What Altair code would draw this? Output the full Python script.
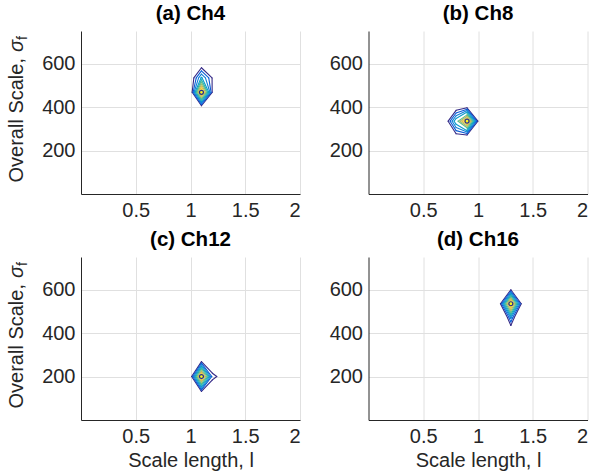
import altair as alt
import numpy as np
import pandas as pd

FONT = "Liberation Sans"
INK = "#262626"

# contour levels of the normalised likelihood and their parula colours
levels = [0.05, 0.15, 0.25, 0.35, 0.45, 0.55, 0.65, 0.75, 0.85, 0.95]
level_colors = ["#352a87", "#095dd7", "#107ed7", "#0b9ccb", "#22b1b0",
                "#60bc8b", "#aabd69", "#e1be4d", "#fcd32a", "#f9fb0e"]

panel_keys = ["a", "b", "c", "d"]
panel_titles = ["(a) Ch4", "(b) Ch8", "(c) Ch12", "(d) Ch16"]

# local likelihood grids (rows: sigma_f nodes, columns: l nodes)
a_l = [1.0, 1.1, 1.2]
a_sigma = [404, 468, 534, 600]
a_z = [[-0.15, 0.02, -0.15],
       [-0.12, 1.00, 0.03],
       [-0.09, 0.37, 0.04],
       [-0.20, -0.08, -0.20]]

b_l = [0.7, 0.8, 0.9, 1.0]
b_sigma = [270, 335, 400]
b_z = [[-0.20, 0.00, 0.03, -0.10],
       [-0.10, 0.45, 1.00, 0.04],
       [-0.20, -0.07, 0.00, -0.10]]

c_l = [1.0, 1.1, 1.2, 1.3]
c_sigma = [130, 200, 270]
c_z = [[-0.20, 0.03, -0.13, -0.20],
       [-0.06, 1.00, 0.10, -0.025],
       [-0.20, 0.03, -0.13, -0.20]]

d_l = [1.2, 1.3, 1.4]
d_sigma = [405, 470, 535, 600]
d_z = [[-0.20, -0.136, -0.20],
       [-0.46, 0.27, -0.46],
       [0.00, 1.00, 0.00],
       [-0.15, 0.04, -0.15]]

# maximum-likelihood point of each panel
peak_l = [1.1, 0.9, 1.1, 1.3]
peak_sigma = [468, 335, 200, 535]

x_ticks = [0.5, 1, 1.5, 2]
y_ticks = [200, 400, 600]

grids = {"a": (a_l, a_sigma, a_z), "b": (b_l, b_sigma, b_z),
         "c": (c_l, c_sigma, c_z), "d": (d_l, d_sigma, d_z)}


def contour_rows(key, ls, ss, z):
    z = np.asarray(z, dtype=float)
    rows = []
    for k, lev in enumerate(levels):
        for i in range(len(ss) - 1):
            for j in range(len(ls) - 1):
                c = [(ls[j], ss[i], z[i, j]), (ls[j + 1], ss[i], z[i, j + 1]),
                     (ls[j + 1], ss[i + 1], z[i + 1, j + 1]), (ls[j], ss[i + 1], z[i + 1, j])]
                pts = {}
                for e in range(4):
                    p, q = c[e], c[(e + 1) % 4]
                    if (p[2] - lev) * (q[2] - lev) < 0:
                        t = (lev - p[2]) / (q[2] - p[2])
                        pts[e] = (p[0] + t * (q[0] - p[0]), p[1] + t * (q[1] - p[1]))
                segs = []
                if len(pts) == 2:
                    e1, e2 = list(pts.keys())
                    segs.append((pts[e1], pts[e2]))
                elif len(pts) == 4:
                    centre = np.mean([cc[2] for cc in c]) > lev
                    for m in range(4):
                        if (c[m][2] > lev) != centre:
                            segs.append((pts[(m - 1) % 4], pts[m]))
                for (p1, p2) in segs:
                    rows.append({"panel": key, "lev": k, "l": p1[0], "s": p1[1],
                                 "l2": p2[0], "s2": p2[1]})
    return rows


all_rows = []
for key in panel_keys:
    all_rows += contour_rows(key, *grids[key])
contours = pd.DataFrame(all_rows).sort_values("lev", kind="stable")
peaks = pd.DataFrame({"panel": panel_keys, "l": peak_l, "s": peak_sigma})

xscale = alt.Scale(domain=[0, 2], nice=False, zero=False)
yscale = alt.Scale(domain=[0, 750], nice=False, zero=False)

W, H = 219, 163
TFS = 20            # axis-title font size
PY = 21             # junction between "Overall Scale," and sigma
TX = -64


def make_panel(idx, left, bottom):
    key = panel_keys[idx]
    xaxis = alt.Axis(values=x_ticks, title="Scale length, l" if bottom else None,
                     labelExpr="datum.value == 1 ? '1' : datum.value == 2 ? '2' : format(datum.value, '.1f')")
    yaxis = alt.Axis(values=y_ticks, title=None)
    seg = alt.Chart(contours[contours.panel == key]).mark_rule(
        strokeWidth=1.1, strokeCap="round").encode(
        x=alt.X("l:Q", scale=xscale, axis=xaxis),
        x2="l2:Q",
        y=alt.Y("s:Q", scale=yscale, axis=yaxis),
        y2="s2:Q",
        color=alt.Color("lev:O", scale=alt.Scale(domain=list(range(len(levels))),
                                                 range=level_colors), legend=None),
    )
    pk = alt.Chart(peaks[peaks.panel == key]).mark_point(
        shape="circle", size=16, filled=False, stroke="#1f2f8f", strokeWidth=1.2,
        opacity=1).encode(x=alt.X("l:Q", scale=xscale), y=alt.Y("s:Q", scale=yscale))
    layers = [seg, pk]
    if left:
        t1 = alt.Chart(pd.DataFrame({"t": ["Overall Scale,"]})).mark_text(
            angle=270, align="right", baseline="middle", font=FONT, fontSize=TFS,
            color=INK).encode(x=alt.value(TX), y=alt.value(PY + 6), text="t:N")
        t2 = alt.Chart(pd.DataFrame({"t": ["\u03c3"]})).mark_text(
            angle=270, align="left", baseline="middle", font=FONT, fontSize=TFS,
            fontStyle="italic", color=INK).encode(x=alt.value(TX), y=alt.value(PY), text="t:N")
        t3 = alt.Chart(pd.DataFrame({"t": ["f"]})).mark_text(
            angle=270, align="left", baseline="middle", font=FONT, fontSize=14,
            color=INK).encode(x=alt.value(TX + 6), y=alt.value(PY - 12), text="t:N")
        layers += [t1, t2, t3]
    return alt.layer(*layers).properties(
        width=W, height=H,
        title=alt.TitleParams(panel_titles[idx], fontSize=20.5, fontWeight="bold",
                              font=FONT, color="#000000", anchor="middle", offset=7))


chart = alt.concat(
    make_panel(0, True, False), make_panel(1, False, False),
    make_panel(2, True, True), make_panel(3, False, True),
    columns=2, spacing={"row": 63, "column": 68.5}, bounds="flush",
).properties(
    padding={"left": 7, "top": 3, "right": 1, "bottom": 3},
    background="white"
).configure_view(stroke=None).configure_axis(
    domainColor=INK, domainWidth=1, grid=True, gridColor="#e0e0e0", gridWidth=1,
    ticks=False, labelFont=FONT, labelFontSize=20, labelColor=INK, labelPadding=6,
    titleFont=FONT, titleFontSize=TFS, titleFontWeight="normal", titleColor=INK,
    titlePadding=4
)

chart.save("out.html", embed_options={"renderer": "svg", "actions": False})
